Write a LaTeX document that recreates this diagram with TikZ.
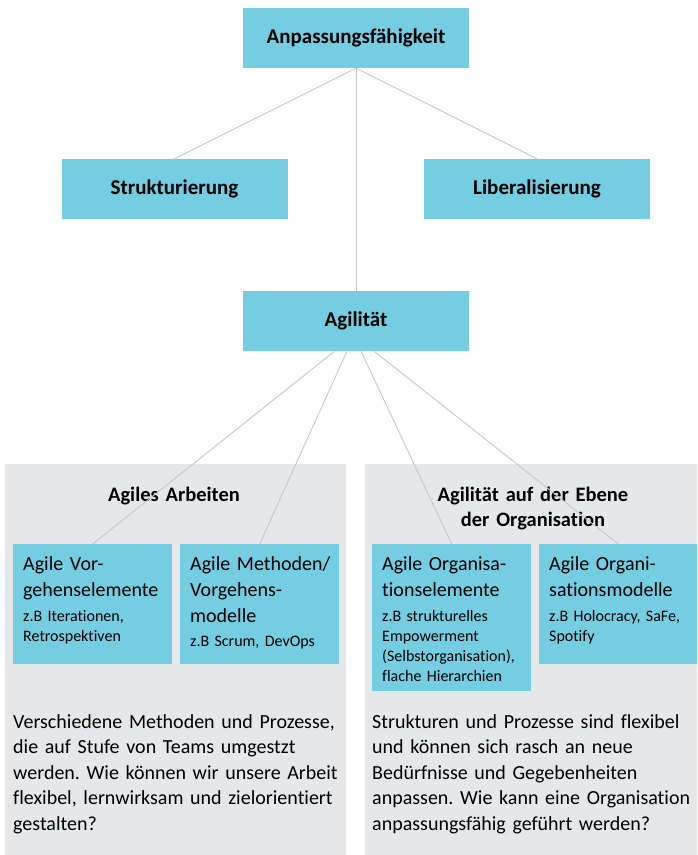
\documentclass[tikz,border=0pt]{standalone}
\usepackage{fontspec}
\setmainfont{Carlito}[Ligatures=NoCommon]
\frenchspacing
\definecolor{boxc}{RGB}{116,205,225}
\definecolor{panelc}{RGB}{230,231,232}
\definecolor{linec}{RGB}{200,200,200}
\begin{document}
\begin{tikzpicture}[x=1pt,y=-1pt,
  topbox/.style={fill=boxc, inner sep=0, minimum width=226pt, minimum height=60pt, font=\fontsize{21}{25}\selectfont\bfseries},
  childbox/.style={fill=boxc, inner sep=0, anchor=north west, minimum width=159pt, minimum height=#1},
  childbox/.default=120pt,
  panel/.style={fill=panelc, inner sep=0, anchor=north west, minimum height=391pt},
  big/.style={anchor=base west, inner sep=0, text width=155pt, align=left, font=\fontsize{20}{26}\selectfont},
  small/.style={anchor=base west, inner sep=0, text width=155pt, align=left, font=\fontsize{16}{20}\selectfont},
  para/.style={anchor=base west, inner sep=0, text width=340pt, align=left, font=\fontsize{20}{25.5}\selectfont},
  head/.style={anchor=base, inner sep=0, text width=260pt, align=center, font=\fontsize{20.5}{25}\selectfont\bfseries},
  conn/.style={draw=linec, line width=0.9pt}]
\useasboundingbox (0,0) rectangle (697,855);
% panels
\node[panel, minimum width=341pt] (pl) at (5,464) {};
\node[panel, minimum width=332pt] (pr) at (365,464) {};
% top boxes
\node[topbox] (anp) at (356,38) {Anpassungsfähigkeit};
\node[topbox] (struk) at (174.5,189) {Strukturierung};
\node[topbox] (lib) at (537,189) {Liberalisierung};
\node[topbox] (agil) at (356,321) {Agilität};
% child boxes
\node[childbox] (c1) at (13,544) {};
\node[childbox] (c2) at (180,544) {};
\node[childbox=147pt] (c3) at (372,544) {};
\node[childbox, minimum width=158pt] (c4) at (539,544) {};
% headings
\node[head] (h1) at (174,501) {Agiles Arbeiten};
\node[head] (h2) at (533,501) {Agilität auf der Ebene\\der Organisation};
% box texts
\node[big] (t1) at (23,570) {Agile Vor-\\gehenselemente};
\node[small] (s1) at (23,621) {z.B Iterationen,\\Retrospektiven};
\node[big] (t2) at (190,570) {Agile Methoden/\\Vorgehens-\\modelle};
\node[small] (s2) at (190,646) {z.B Scrum, DevOps};
\node[big] (t3) at (382,570) {Agile Organisa-\\tionselemente};
\node[small] (s3) at (382,621) {z.B strukturelles\\Empowerment\\(Selbstorganisation),\\flache Hierarchien};
\node[big] (t4) at (549,570) {Agile Organi-\\sationsmodelle};
\node[small] (s4) at (549,621) {z.B Holocracy, SaFe,\\Spotify};
% paragraphs
\node[para] (p1) at (13,728) {Verschiedene Methoden und Prozesse,\\die auf Stufe von Teams umgestzt\\werden. Wie können wir unsere Arbeit\\flexibel, lernwirksam und zielorientiert\\gestalten?};
\node[para] (p2) at (372,728) {Strukturen und Prozesse sind flexibel\\und können sich rasch an neue\\Bedürfnisse und Gegebenheiten\\anpassen. Wie kann eine Organisation\\anpassungsfähig geführt werden?};
% connectors
\draw[conn] (anp.south) -- (struk.north);
\draw[conn] (anp.south) -- (lib.north);
\draw[conn] (anp.south) -- (agil.north);
\draw[conn] ([xshift=-21.5pt]agil.south) -- (c1.north);
\draw[conn] ([xshift=-9pt]agil.south) -- (c2.north);
\draw[conn] ([xshift=5pt]agil.south) -- (c3.north);
\draw[conn] ([xshift=18pt]agil.south) -- (c4.north);
\end{tikzpicture}
\end{document}
